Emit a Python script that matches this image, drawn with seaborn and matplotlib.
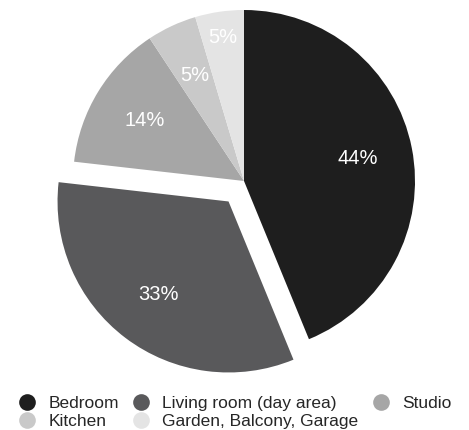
import matplotlib
matplotlib.use("Agg")
import matplotlib.pyplot as plt
from matplotlib.lines import Line2D
import seaborn as sns
import numpy as np

# Data
rooms = ["Bedroom", "Living room (day area)", "Studio", "Kitchen", "Garden, Balcony, Garage"]
shares = [43.8, 33.0, 13.9, 4.7, 4.6]
greys = ["#1e1e1e", "#59595b", "#a6a6a6", "#c9c9c9", "#e4e4e4"]
explode = [0, 0.15, 0, 0, 0]

sns.set_theme(style="white")
plt.rcParams["font.family"] = ["Liberation Sans", "DejaVu Sans"]

fig = plt.figure(figsize=(4.69, 4.30), dpi=100)
ax = fig.add_axes([73 / 469, 78 / 430, 342 / 469, 342 / 430])

wedges, _, autotexts = ax.pie(
    shares, colors=greys, explode=explode, startangle=90, counterclock=False,
    autopct="%.0f%%", pctdistance=0.68, radius=1,
    wedgeprops=dict(linewidth=0),
    textprops=dict(color="white", fontsize=14.5),
)
for w in wedges:
    w.set_clip_on(False)

# last label sits further out, near the rim
w = wedges[-1]
mid = np.deg2rad((w.theta1 + w.theta2) / 2)
cx, cy = w.center
autotexts[-1].set_position((cx + 0.85 * np.cos(mid), cy + 0.85 * np.sin(mid)))

ax.set_xlim(-1, 1)
ax.set_ylim(-1, 1)
ax.set_aspect("equal")
ax.axis("off")

# legend rows: Bedroom / Living / Studio, then Kitchen / Garden
handles = [Line2D([], [], marker="o", linestyle="none", markersize=12,
                  markerfacecolor=c, markeredgewidth=0) for c in greys]
order = [0, 3, 1, 4, 2]
fig.legend([handles[i] for i in order], [rooms[i] for i in order],
           loc="center", bbox_to_anchor=(0.501, 0.041), ncol=3, frameon=False,
           fontsize=12.5, handlelength=1.0, handletextpad=0.7,
           columnspacing=0.8, labelspacing=0.15, borderpad=0)

fig.savefig("out.png", dpi=100)
